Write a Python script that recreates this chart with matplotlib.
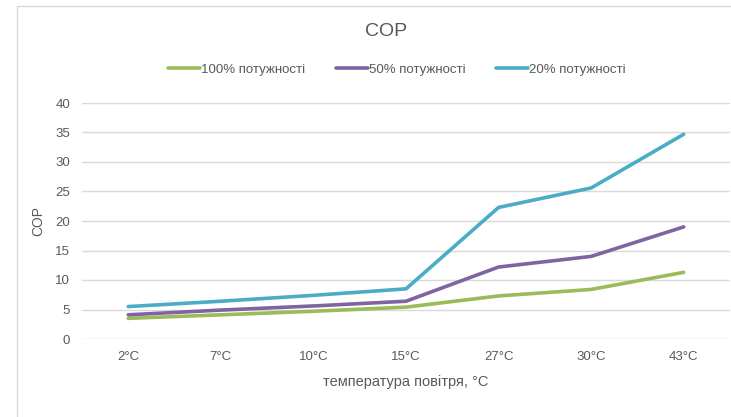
import matplotlib
matplotlib.use('Agg')
import matplotlib.pyplot as plt
from matplotlib.patches import Rectangle

plt.rcParams['font.family'] = ['Liberation Sans', 'DejaVu Sans']

# дані
temps = ['2°C', '7°C', '10°C', '15°C', '27°C', '30°C', '43°C']
cop_100 = [3.5, 4.1, 4.7, 5.4, 7.3, 8.4, 11.3]
cop_50 = [4.1, 4.9, 5.6, 6.4, 12.2, 14.0, 19.0]
cop_20 = [5.5, 6.4, 7.4, 8.5, 22.3, 25.6, 34.7]
series_names = ['100% потужності', '50% потужності', '20% потужності']
colors = ['#9BBB59', '#8064A2', '#4BACC6']
yticks = [0, 5, 10, 15, 20, 25, 30, 35, 40]

text_col = '#595959'

fig = plt.figure(figsize=(7.31, 4.17), dpi=100)
fig.patch.set_facecolor('white')

# рамка області діаграми (права і нижня сторони за межами картинки)
fig.patches.append(Rectangle((17 / 731, -0.5), 2.0, 1 - 6 / 417 + 0.5, transform=fig.transFigure,
                             fill=False, edgecolor='#D9D9D9', linewidth=1))

ax = fig.add_axes([82 / 731, 1 - 339 / 417, 648 / 731, 236 / 417])
x = range(len(temps))
for vals, name, c in zip([cop_100, cop_50, cop_20], series_names, colors):
    ax.plot(x, vals, color=c, linewidth=2.6, label=name, solid_capstyle='round')

ax.set_xlim(-0.5, len(temps) - 0.5)
ax.set_ylim(0, 40)
ax.set_yticks(yticks)
ax.set_xticks(list(x))
ax.set_xticklabels(temps)
ax.grid(axis='y', color='#D9D9D9', linewidth=1)
ax.set_axisbelow(True)
for s in ax.spines.values():
    s.set_visible(False)
ax.tick_params(length=0, colors=text_col, labelsize=9.5)
ax.tick_params(axis='y', pad=8.5)
ax.tick_params(axis='x', pad=9)

ax.set_ylabel('COP', color=text_col, fontsize=10, labelpad=7)
ax.set_xlabel('температура повітря, °C', color=text_col, fontsize=10.5, labelpad=8)

fig.text(386 / 731, 1 - 32 / 417, 'COP', ha='center', va='center', fontsize=14, color=text_col)

fig.legend(loc='center', bbox_to_anchor=(397 / 731, 1 - 70 / 417), ncol=3, frameon=False,
           fontsize=9.5, labelcolor=text_col, handlelength=2.4, handletextpad=0.1,
           columnspacing=2.3)

fig.savefig('out.png', dpi=100)
